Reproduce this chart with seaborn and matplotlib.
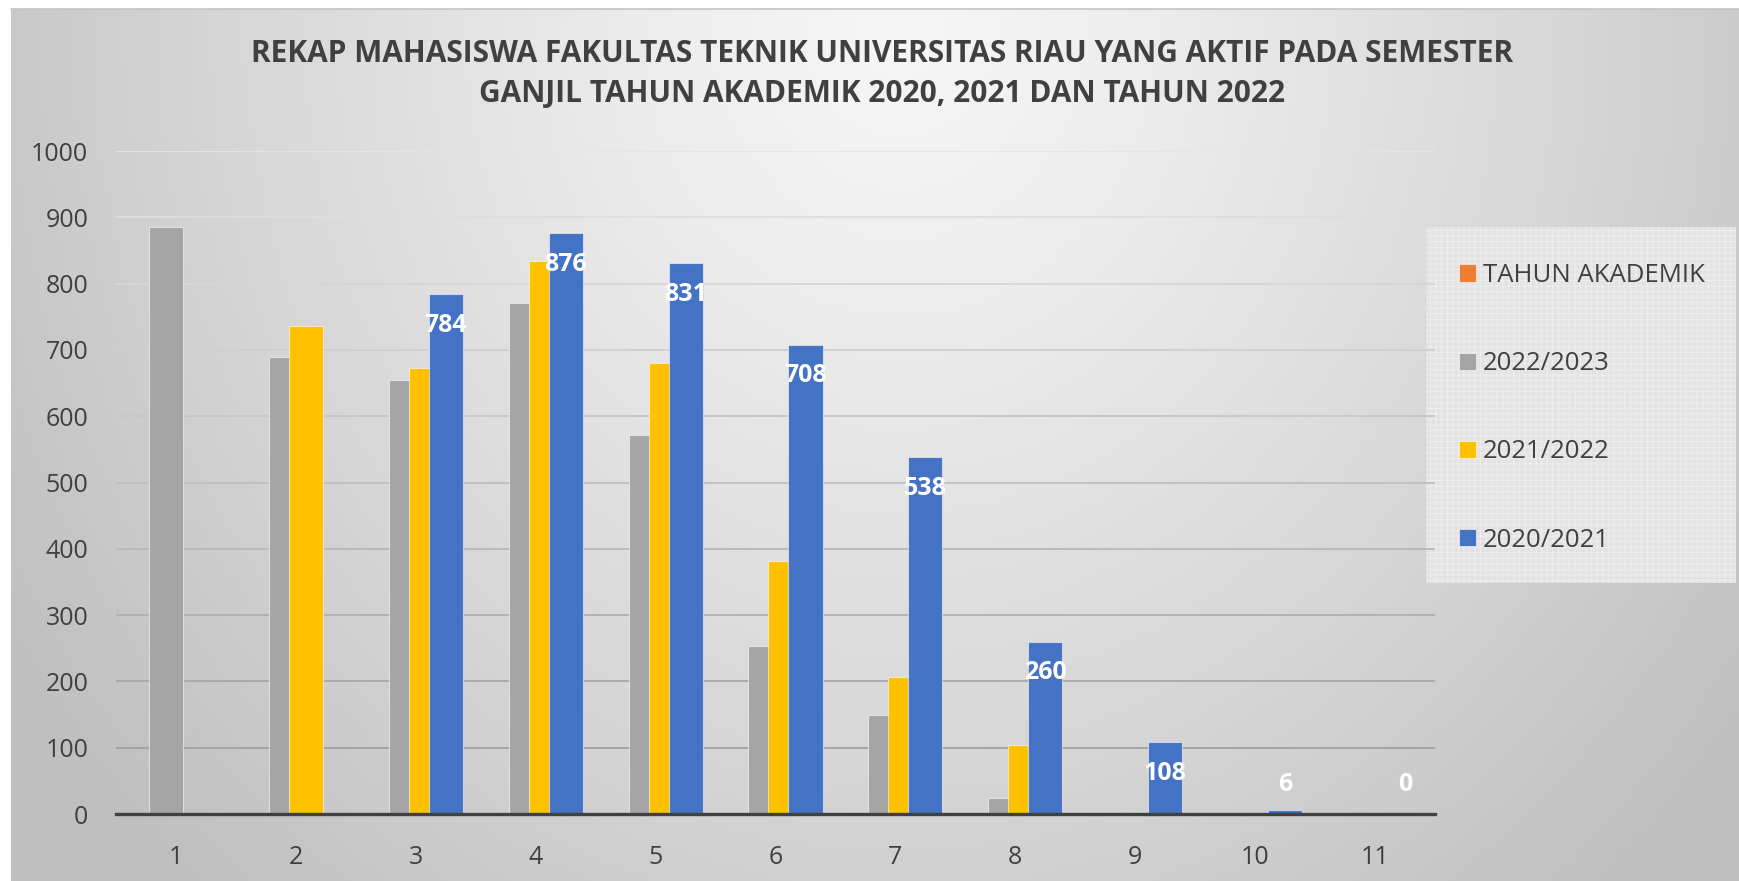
import numpy as np
import pandas as pd
import matplotlib
matplotlib.use('Agg')
import matplotlib.pyplot as plt
from matplotlib.patches import Rectangle
import seaborn as sns


# Rekap mahasiswa aktif FT UNRI per semester, tiga tahun akademik

semester = [1, 2, 3, 4, 5, 6, 7, 8, 9, 10, 11]
tahun_akademik = [np.nan] * 11
ta_2022 = [885, 690, 655, 770, 572, 254, 150, 24, np.nan, np.nan, np.nan]
ta_2021 = [np.nan, 736, 672, 834, 680, 381, 207, 104, np.nan, np.nan, np.nan]
ta_2020 = [np.nan, np.nan, 784, 876, 831, 708, 538, 260, 108, 6, 0]

series_names = ['TAHUN AKADEMIK', '2022/2023', '2021/2022', '2020/2021']
colors = ['#ED7D31', '#A5A5A5', '#FFC000', '#4472C4']

W, H = 1739, 881


def build_frame():
    rows = []
    for name, vals in zip(series_names, [tahun_akademik, ta_2022, ta_2021, ta_2020]):
        for s, v in zip(semester, vals):
            rows.append({'semester': s, 'jumlah': v, 'seri': name})
    df = pd.DataFrame(rows)
    df['jumlah'] = df['jumlah'].fillna(0)
    return df


def background(fig):
    bg = fig.add_axes([11 / W, 0, 1 - 11 / W, 1 - 9 / H], zorder=-10)
    xx, yy = np.meshgrid(np.linspace(11, W, 400), np.linspace(9, H, 200))
    r = np.sqrt(((xx - 900) / 950) ** 2 + ((yy - 30) / 1050) ** 2)
    v = 0.965 - 0.19 * np.clip(r, 0, 1.1) ** 1.2
    img = np.dstack([v, v, v])
    bg.imshow(img, aspect='auto', extent=[0, 1, 0, 1], origin='upper')
    bg.axis('off')
    fig.add_artist(plt.Line2D([11 / W, 1], [1 - 9 / H, 1 - 9 / H],
                              transform=fig.transFigure, color='#c4c4c4', lw=1.2))


def plot():
    df = build_frame()
    sns.set_style('white')
    plt.rcParams['font.family'] = ['Open Sans', 'DejaVu Sans']
    plt.rcParams['hatch.linewidth'] = 0.6

    fig = plt.figure(figsize=(W / 100, H / 100), dpi=100)
    fig.patch.set_facecolor('white')
    background(fig)

    # legend box behind everything but the background
    fig.add_artist(Rectangle((1426 / W, 1 - 583 / H), 310 / W, 356 / H,
                             transform=fig.transFigure, facecolor='#e3e3e3',
                             edgecolor='#efefef', lw=0, hatch='+++', zorder=-5))

    ax = fig.add_axes([116 / W, 67 / H, (1435 - 116) / W, (814 - 151) / H])
    ax.patch.set_alpha(0)

    sns.barplot(data=df, x='semester', y='jumlah', hue='seri', hue_order=series_names,
                palette=colors, saturation=1, width=0.667, errorbar=None, ax=ax,
                edgecolor=(1, 1, 1, 0.55), linewidth=0.8)

    # excel style overlapping bars
    bw = 0.284
    for cont in ax.containers:
        for p in cont.patches:
            cx = p.get_x() + p.get_width() / 2
            p.set_width(bw)
            p.set_x(cx - bw / 2)
            if p.get_height() == 0:
                p.set_linewidth(0)

    # data labels on 2020/2021 bars
    blue = ax.containers[3]
    for p, v in zip(blue.patches, ta_2020):
        if np.isnan(v):
            continue
        cx = p.get_x() + p.get_width() / 2
        ax.text(cx, max(v - 47, 45), '%d' % v, ha='center', va='center',
                color='white', fontsize=18, fontweight='bold', zorder=5)

    ax.set_ylim(0, 1000)
    ax.set_xlim(-0.5, 10.5)
    ax.set_yticks(range(0, 1001, 100))
    ax.set_xlabel('')
    ax.set_ylabel('')
    ax.tick_params(axis='both', length=0, labelsize=18, labelcolor='#404040')
    ax.tick_params(axis='y', pad=20)
    ax.tick_params(axis='x', pad=22)
    for s in ['left', 'right', 'top']:
        ax.spines[s].set_visible(False)
    ax.spines['bottom'].set_color('#404040')
    ax.spines['bottom'].set_linewidth(2.4)

    ax.set_axisbelow(True)
    ax.yaxis.grid(True, linewidth=1.3)
    for t, gl in zip(ax.get_yticks(), ax.get_ygridlines()):
        c = 0.6 + 0.3 * (t / 1000.0)
        gl.set_color((c, c, c))

    sns.move_legend(ax, 'upper left', bbox_to_anchor=(1459 / W, 1 - 263 / H),
                    bbox_transform=fig.transFigure, title=None, frameon=False,
                    fontsize=18.5, labelspacing=2.46, handlelength=0.66,
                    handleheight=0.66, handletextpad=0.28, borderpad=0,
                    borderaxespad=0, labelcolor='#404040')

    fig.text(882 / W, 1 - 74 / H,
             'REKAP MAHASISWA FAKULTAS TEKNIK UNIVERSITAS RIAU YANG AKTIF PADA SEMESTER\n'
             'GANJIL TAHUN AKADEMIK 2020, 2021 DAN TAHUN 2022',
             ha='center', va='center', fontsize=21.5, fontweight='bold',
             color='#404040', linespacing=1.45)

    fig.savefig('out.png', dpi=100, facecolor=fig.get_facecolor())


if __name__ == "__main__":
    plot()
